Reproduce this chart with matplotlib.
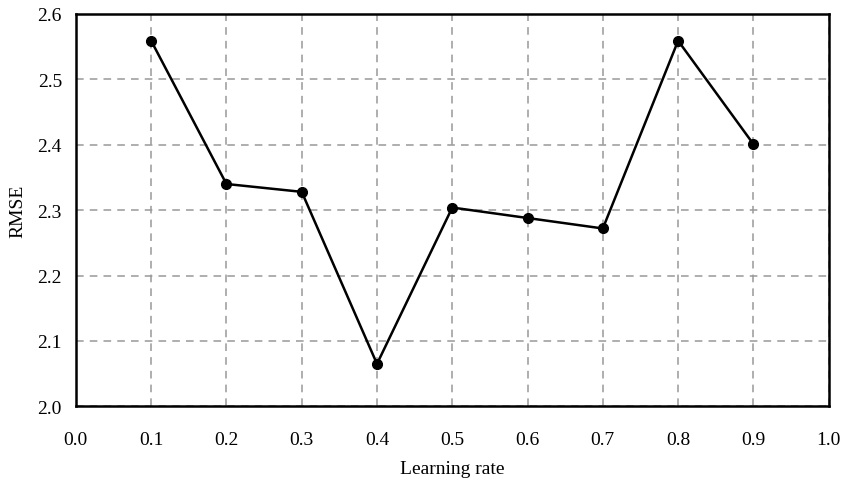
import matplotlib
matplotlib.use('Agg')
import matplotlib.pyplot as plt
import numpy as np

learning_rate = [0.1, 0.2, 0.3, 0.4, 0.5, 0.6, 0.7, 0.8, 0.9]
rmse = [2.559, 2.340, 2.328, 2.065, 2.304, 2.288, 2.272, 2.559, 2.401]

matplotlib.rcParams['font.family'] = 'Liberation Serif'
matplotlib.rcParams['font.size'] = 14

fig = plt.figure(figsize=(8.43, 4.81), dpi=100)
ax = fig.add_axes([0.090, 0.153, 0.893, 0.816])
ax.plot(learning_rate, rmse, color='black', linewidth=1.8, marker='o', markersize=7, zorder=3)
ax.set_xlim(0, 1.0)
ax.set_ylim(2.0, 2.6)
ax.set_xticks(np.arange(0, 1.01, 0.1))
ax.set_yticks(np.arange(2.0, 2.61, 0.1))
ax.set_xticklabels(['%.1f' % v for v in np.arange(0, 1.01, 0.1)])
ax.set_yticklabels(['%.1f' % v for v in np.arange(2.0, 2.61, 0.1)])
ax.tick_params(axis='x', length=0, pad=18)
ax.tick_params(axis='y', length=0, pad=10)
ax.grid(True, color='#999999', linestyle=(0, (5, 4)), linewidth=1.1)
for s in ax.spines.values():
    s.set_linewidth(1.8)
ax.set_xlabel('Learning rate', labelpad=8)
ax.set_ylabel('RMSE', labelpad=8)
plt.savefig('out.png', dpi=100)
